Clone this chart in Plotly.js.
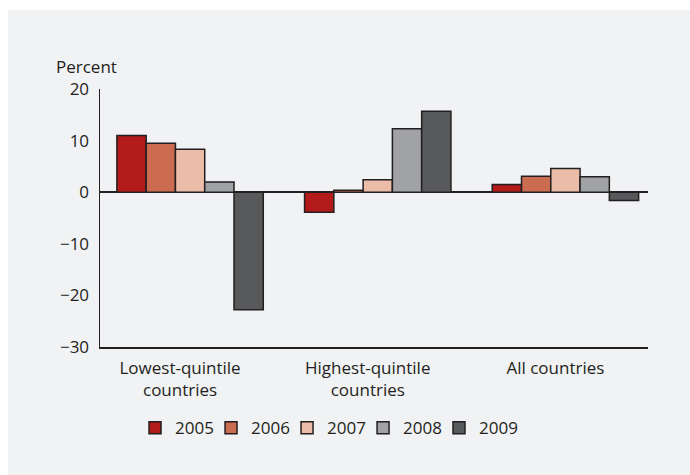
<!DOCTYPE html>
<html>
<head>
<meta charset="utf-8">
<script src="https://cdn.plot.ly/plotly-3.0.1.min.js"></script>
<style>
  html, body { margin: 0; padding: 0; background: #ffffff; }
  #chart { position: absolute; left: 8px; top: 10px; width: 682px; height: 465px; }
</style>
</head>
<body>
<div id="chart"></div>
<script>
const categories = ["Lowest-quintile<br>countries", "Highest-quintile<br>countries", "All countries"];
const years = ["2005", "2006", "2007", "2008", "2009"];
const values2005 = [11.0, -3.9, 1.5];
const values2006 = [9.5, 0.4, 3.1];
const values2007 = [8.3, 2.4, 4.6];
const values2008 = [2.0, 12.3, 3.0];
const values2009 = [-22.8, 15.7, -1.6];
const seriesValues = [values2005, values2006, values2007, values2008, values2009];
const colors = ["#b31b1b", "#cb6b4f", "#ebbca7", "#a1a2a5", "#58595b"];
const yTickVals = [-30, -20, -10, 0, 10, 20];
const yTickText = ["\u221230", "\u221220", "\u221210", "0", "10", "20"];

const ink = "#231f20";
const fontFamily = "'Open Sans', 'Noto Sans', sans-serif";

// one legend box per year so the row spacing can follow the reference
const legendIds = years.map((_, i) => (i === 0 ? "legend" : "legend" + (i + 1)));
const legendX = [0.0639, 0.2026, 0.3413, 0.48, 0.6186];

const traces = years.map((yr, i) => ({
  type: "bar",
  name: yr,
  x: categories,
  y: seriesValues[i],
  legend: legendIds[i],
  marker: { color: colors[i], line: { color: ink, width: 1.5 } },
  hoverinfo: "skip"
}));

const layout = {
  width: 682,
  height: 465,
  paper_bgcolor: "#f1f2f4",
  plot_bgcolor: "#f1f2f4",
  margin: { l: 92, r: 42, t: 79, b: 128 },
  font: { family: fontFamily, size: 17, color: ink },
  barmode: "group",
  bargap: 0.22,
  bargroupgap: 0,
  showlegend: true,
  xaxis: {
    type: "category",
    range: [-0.48, 2.44],
    showline: true, linecolor: ink, linewidth: 1.5,
    ticks: "", showgrid: false, zeroline: false,
    tickfont: { family: fontFamily, size: 17, color: ink },
    ticklabelshift: -10,
    ticklabelstandoff: 5
  },
  yaxis: {
    range: [-30, 20],
    tickvals: yTickVals,
    ticktext: yTickText,
    showline: true, linecolor: ink, linewidth: 1.5,
    ticks: "",
    showgrid: false,
    zeroline: true, zerolinecolor: ink, zerolinewidth: 1.5,
    tickfont: { family: fontFamily, size: 17, color: ink },
    ticklabelstandoff: 6
  },
  // tick marks pointing into the plot, drawn by an overlaid axis on the left edge
  yaxis2: {
    overlaying: "y",
    side: "right",
    anchor: "free",
    position: 0,
    range: [-30, 20],
    tickvals: yTickVals,
    showticklabels: false,
    ticks: "outside", ticklen: 8, tickwidth: 1.5, tickcolor: ink,
    showline: false, showgrid: false, zeroline: false
  },
  annotations: [{
    text: "Percent",
    xref: "paper", yref: "paper",
    x: 0, y: 1,
    xanchor: "center", yanchor: "middle",
    xshift: -14, yshift: 23,
    showarrow: false,
    font: { family: fontFamily, size: 17, color: ink }
  }]
};

legendIds.forEach((id, i) => {
  layout[id] = {
    orientation: "h",
    x: legendX[i], xanchor: "left",
    y: -0.245, yanchor: "top",
    font: { family: fontFamily, size: 17, color: ink },
    bgcolor: "rgba(0,0,0,0)"
  };
});

Plotly.newPlot("chart", traces, layout, { staticPlot: true, displayModeBar: false });
</script>
</body>
</html>
